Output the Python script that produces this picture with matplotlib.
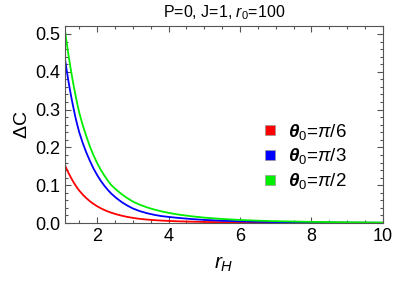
import matplotlib
matplotlib.use('Agg')
import matplotlib.pyplot as plt
from matplotlib.ticker import MultipleLocator
from matplotlib.lines import Line2D

plt.rcParams['font.family'] = ['Liberation Sans', 'DejaVu Sans']
plt.rcParams['mathtext.fontset'] = 'custom'
plt.rcParams['mathtext.rm'] = 'Liberation Sans'
plt.rcParams['mathtext.it'] = 'Liberation Sans:italic'
plt.rcParams['mathtext.bf'] = 'Liberation Sans:bold'
plt.rcParams['mathtext.bfit'] = 'Liberation Sans:bold:italic'

# values
r_h = [1.1, 1.15, 1.2, 1.25, 1.3, 1.35, 1.4, 1.45, 1.5, 1.6, 1.7, 1.8, 1.9,
       2.0, 2.1, 2.2, 2.3, 2.4, 2.55, 2.7, 2.85, 3.0, 3.2, 3.4, 3.6, 3.8,
       4.05, 4.3, 4.65, 5.0, 5.5, 6.0, 6.5, 7.0, 8.0, 9.0, 10.0]
dc_pi6 = [0.153, 0.1423, 0.1323, 0.1231, 0.1145, 0.1065, 0.0990, 0.0921, 0.0857,
          0.0750, 0.0656, 0.0574, 0.0505, 0.0444, 0.0391, 0.0346, 0.0306, 0.0271,
          0.0228, 0.0191, 0.0161, 0.0135, 0.0109, 0.0090, 0.0076, 0.0064, 0.0053,
          0.0044, 0.0035, 0.0028, 0.0020, 0.0015, 0.0011, 0.0008, 0.0005, 0.0003,
          0.0002]
dc_pi3 = [0.434, 0.403, 0.374, 0.347, 0.322, 0.299, 0.277, 0.258, 0.240,
          0.211, 0.186, 0.164, 0.144, 0.127, 0.112, 0.099, 0.0876, 0.0775,
          0.0651, 0.0546, 0.0459, 0.0385, 0.0312, 0.0258, 0.0216, 0.0183, 0.0156,
          0.0132, 0.0104, 0.0082, 0.0060, 0.0044, 0.0033, 0.0025, 0.0015, 0.0009,
          0.0005]
dc_pi2 = [0.510, 0.476, 0.444, 0.414, 0.386, 0.360, 0.336, 0.313, 0.292,
          0.258, 0.229, 0.202, 0.179, 0.159, 0.141, 0.126, 0.112, 0.100,
          0.0868, 0.0754, 0.0654, 0.0568, 0.0481, 0.0412, 0.0356, 0.0308, 0.0260,
          0.0220, 0.0177, 0.0142, 0.0107, 0.0080, 0.0062, 0.0048, 0.0030, 0.0019,
          0.0012]
labels = [r'$\boldsymbol{\theta}_0$=$\pi$/6', r'$\boldsymbol{\theta}_0$=$\pi$/3',
          r'$\boldsymbol{\theta}_0$=$\pi$/2']
colors = ['#ff0000', '#0000ff', '#00ee00']

fig = plt.figure(figsize=(3.96, 2.83), dpi=100)
ax = fig.add_axes([0.164, 0.212, 0.803, 0.696])

for ys, c in zip([dc_pi6, dc_pi3, dc_pi2], colors):
    ax.plot(r_h, ys, color=c, lw=1.3)

ax.set_xlim(1.1, 10)
ax.set_ylim(0, 0.521)
ax.xaxis.set_major_locator(MultipleLocator(2))
ax.xaxis.set_minor_locator(MultipleLocator(0.5))
ax.yaxis.set_major_locator(MultipleLocator(0.1))
ax.yaxis.set_minor_locator(MultipleLocator(0.02))
ax.tick_params(which='both', direction='in', top=True, right=True,
               colors='#555555', labelcolor='black', labelsize=13, width=0.8)
ax.tick_params(which='major', length=4)
ax.tick_params(which='minor', length=2)
for s in ax.spines.values():
    s.set_color('#555555')
    s.set_linewidth(0.8)

ax.set_title(r'P=0, J=1, $r_0$=100', fontsize=11.5, pad=6)
ax.set_xlabel(r'$r_H$', fontsize=15, labelpad=7)
ax.set_ylabel(r'$\Delta$C', fontsize=14, labelpad=3)

handles = [Line2D([], [], ls='none', marker='s', ms=7, mfc=c, mec='#999999', mew=0.5)
           for c in colors]
leg = ax.legend(handles, labels, loc='upper left', bbox_to_anchor=(0.555, 0.6),
                frameon=False, fontsize=13.5, handletextpad=0.4, labelspacing=0.25,
                handlelength=1.2)

fig.savefig('out.png', dpi=100)
